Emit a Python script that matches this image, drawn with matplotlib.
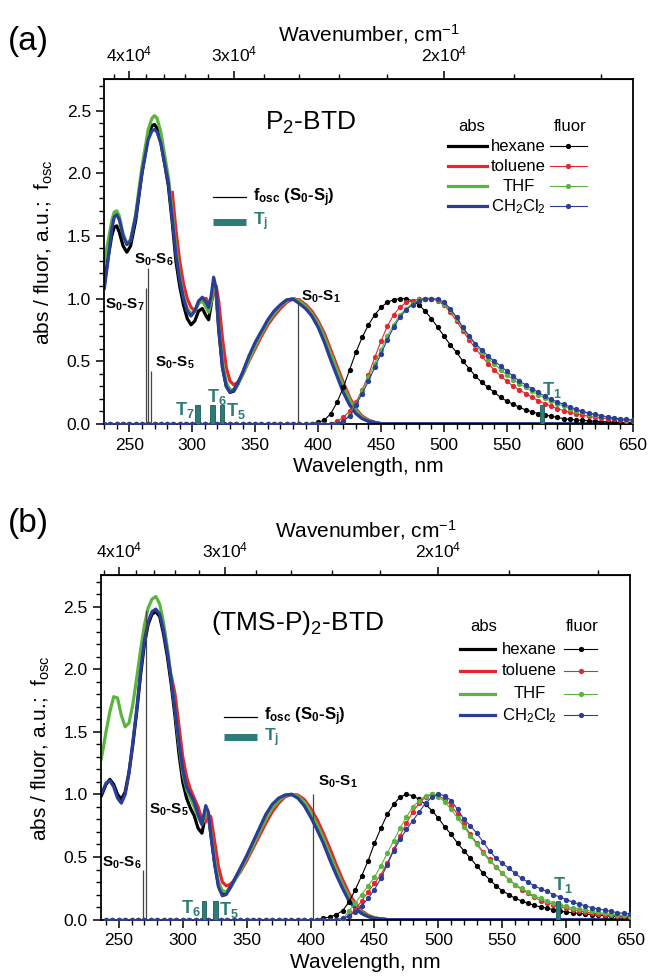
import numpy as np
import matplotlib.pyplot as plt
from matplotlib.ticker import FixedLocator, MultipleLocator

plt.rcParams['font.family'] = ['Liberation Sans', 'DejaVu Sans']
plt.rcParams['mathtext.fontset'] = 'custom'
plt.rcParams['mathtext.rm'] = 'Liberation Sans'
plt.rcParams['mathtext.it'] = 'Liberation Sans:italic'
plt.rcParams['mathtext.bf'] = 'Liberation Sans:bold'

solvents = ['hexane', 'toluene', 'THF', 'CH$_2$Cl$_2$']
colors = ['black', '#e8252b', '#5ab53e', '#2b3d97']
teal = '#2c7c77'

# ---------------- panel (a): P2-BTD ----------------
wl_abs_a = [230, 233, 236, 238, 240, 242, 245, 248, 251, 255, 260, 265, 268, 270, 272, 275,
            278, 281, 284, 287, 290, 293, 296, 299, 302, 305, 308, 311, 313, 315, 317, 319,
            321, 324, 327, 330, 333, 336, 340, 345, 350, 355, 360, 365, 370, 375, 380, 385,
            390, 395, 400, 405, 410, 415, 420, 425, 430, 435, 440, 445, 450, 650]
abs_hex_a = [1.10, 1.32, 1.50, 1.57, 1.58, 1.53, 1.42, 1.37, 1.42, 1.62, 2.00, 2.30, 2.38, 2.39, 2.36, 2.25,
             2.08, 1.90, 1.62, 1.30, 1.10, 0.95, 0.84, 0.79, 0.82, 0.90, 0.92, 0.86, 0.83, 0.95, 1.10, 1.03,
             0.75, 0.45, 0.30, 0.25, 0.26, 0.31, 0.40, 0.52, 0.62, 0.71, 0.80, 0.87, 0.93, 0.98, 1.00, 0.98,
             0.95, 0.89, 0.80, 0.68, 0.53, 0.40, 0.27, 0.17, 0.09, 0.045, 0.02, 0.01, 0.0, 0.0]
abs_tol_a = [None] * 18 + [
             1.86, 1.55, 1.30, 1.12, 1.00, 0.93, 0.90, 0.96, 1.00, 1.00, 0.96, 0.97, 1.04, 1.10,
             0.98, 0.68, 0.45, 0.34, 0.31, 0.33, 0.39, 0.50, 0.60, 0.70, 0.79, 0.86, 0.92, 0.97, 0.995, 0.99,
             0.95, 0.90, 0.82, 0.72, 0.59, 0.46, 0.33, 0.21, 0.12, 0.06, 0.03, 0.01, 0.0, 0.0]
abs_thf_a = [1.28, 1.45, 1.62, 1.69, 1.70, 1.66, 1.52, 1.44, 1.47, 1.67, 2.05, 2.35, 2.44, 2.46, 2.44, 2.33,
             2.15, 1.97, 1.70, 1.40, 1.18, 1.02, 0.92, 0.88, 0.90, 0.96, 0.98, 0.93, 0.89, 0.97, 1.10, 1.06,
             0.80, 0.50, 0.33, 0.27, 0.27, 0.31, 0.39, 0.51, 0.62, 0.72, 0.81, 0.88, 0.94, 0.98, 1.00, 0.98,
             0.94, 0.88, 0.80, 0.69, 0.56, 0.43, 0.30, 0.19, 0.11, 0.05, 0.025, 0.01, 0.0, 0.0]
abs_dcm_a = [1.07, 1.30, 1.55, 1.65, 1.67, 1.63, 1.50, 1.43, 1.46, 1.65, 2.00, 2.27, 2.34, 2.35, 2.33, 2.24,
             2.08, 1.92, 1.65, 1.35, 1.15, 1.00, 0.90, 0.86, 0.90, 0.98, 1.01, 0.97, 0.93, 1.02, 1.17, 1.08,
             0.78, 0.45, 0.30, 0.25, 0.27, 0.32, 0.41, 0.54, 0.65, 0.74, 0.83, 0.90, 0.95, 0.99, 0.995, 0.96,
             0.92, 0.86, 0.77, 0.65, 0.51, 0.38, 0.25, 0.15, 0.08, 0.04, 0.02, 0.01, 0.0, 0.0]

# fluorescence, 5 nm steps, each list ends at 650 nm
fl_hex_a = [0.0] * 34 + [
    0.01, 0.03, 0.08, 0.17, 0.29, 0.43, 0.57, 0.69, 0.79, 0.87, 0.93, 0.97, 0.99, 1.0, 1.0, 0.98,
    0.95, 0.90, 0.84, 0.77, 0.70, 0.63, 0.57, 0.50, 0.44, 0.38, 0.33, 0.29, 0.25, 0.21, 0.18, 0.155,
    0.13, 0.11, 0.095, 0.08, 0.07, 0.06, 0.05, 0.04, 0.035, 0.03, 0.027, 0.023, 0.02, 0.017, 0.015,
    0.012, 0.01, 0.008, 0.006]
fl_tol_a = [0.0] * 36 + [
    0.0, 0.02, 0.05, 0.10, 0.17, 0.27, 0.39, 0.53, 0.66, 0.78, 0.87, 0.93, 0.97, 0.98, 0.995, 1.0,
    1.0, 0.98, 0.95, 0.89, 0.82, 0.74, 0.67, 0.60, 0.54, 0.48, 0.43, 0.38, 0.34, 0.30, 0.27, 0.24,
    0.21, 0.185, 0.16, 0.14, 0.12, 0.105, 0.09, 0.08, 0.07, 0.06, 0.05, 0.045, 0.04, 0.035, 0.03,
    0.025, 0.02]
fl_thf_a = [0.0] * 38 + [
    0.02, 0.07, 0.16, 0.26, 0.37, 0.48, 0.59, 0.70, 0.79, 0.87, 0.92, 0.96, 0.985, 1.0, 1.0, 0.99,
    0.96, 0.91, 0.84, 0.76, 0.69, 0.63, 0.57, 0.52, 0.48, 0.43, 0.39, 0.35, 0.32, 0.29, 0.26, 0.23,
    0.205, 0.18, 0.16, 0.14, 0.12, 0.105, 0.09, 0.08, 0.07, 0.06, 0.05, 0.043, 0.037, 0.032, 0.028]
fl_dcm_a = [0.0] * 37 + [
    0.0, 0.02, 0.06, 0.15, 0.24, 0.34, 0.45, 0.56, 0.67, 0.77, 0.85, 0.91, 0.95, 0.98, 0.995, 1.0,
    0.995, 0.97, 0.92, 0.85, 0.77, 0.70, 0.64, 0.59, 0.54, 0.50, 0.46, 0.42, 0.38, 0.34, 0.31, 0.28,
    0.25, 0.22, 0.195, 0.175, 0.155, 0.135, 0.115, 0.10, 0.085, 0.075, 0.065, 0.055, 0.045, 0.04,
    0.035, 0.03]

# calculated transitions
s_pos_a = [384, 267, 265.2, 263.3]
s_fosc_a = [0.98, 0.42, 1.24, 1.08]
t_pos_a = [304, 316, 323.7, 578]
t_h_a = [0.15, 0.15, 0.15, 0.15]

# ---------------- panel (b): (TMS-P)2-BTD ----------------
wl_abs_b = [236, 238, 240, 243, 246, 249, 252, 255, 258, 261, 264, 267, 270, 273, 276, 279,
            282, 285, 288, 291, 294, 297, 300, 303, 306, 309, 312, 315, 318, 320, 322, 325,
            328, 331, 334, 337, 340, 345, 350, 355, 360, 365, 370, 375, 380, 385, 390, 395,
            400, 405, 410, 415, 420, 425, 430, 435, 440, 445, 450, 455, 460, 650]
abs_hex_b = [0.98, 1.03, 1.08, 1.12, 1.08, 1.00, 0.96, 1.02, 1.18, 1.40, 1.66, 1.95, 2.20, 2.36, 2.44, 2.46,
             2.42, 2.28, 2.10, 1.88, 1.62, 1.33, 1.10, 0.97, 0.89, 0.83, 0.73, 0.69, 0.84, 0.84, 0.68, 0.45,
             0.27, 0.20, 0.21, 0.26, 0.31, 0.40, 0.50, 0.61, 0.72, 0.83, 0.91, 0.96, 0.99, 1.00, 0.98, 0.92,
             0.84, 0.74, 0.62, 0.49, 0.37, 0.26, 0.16, 0.09, 0.05, 0.025, 0.01, 0.005, 0.0, 0.0]
abs_tol_b = [None] * 19 + [
             1.95, 1.80, 1.55, 1.30, 1.14, 1.04, 0.97, 0.90, 0.80, 0.78, 0.84, 0.82, 0.62,
             0.42, 0.30, 0.27, 0.28, 0.31, 0.38, 0.47, 0.57, 0.67, 0.77, 0.86, 0.93, 0.98, 1.00, 0.995, 0.96,
             0.89, 0.80, 0.69, 0.57, 0.44, 0.32, 0.21, 0.13, 0.07, 0.035, 0.015, 0.005, 0.0, 0.0]
abs_thf_b = [1.27, 1.38, 1.50, 1.66, 1.78, 1.77, 1.63, 1.54, 1.57, 1.72, 1.93, 2.15, 2.35, 2.49, 2.56, 2.58,
             2.52, 2.37, 2.17, 1.94, 1.68, 1.40, 1.17, 1.04, 0.97, 0.90, 0.82, 0.76, 0.84, 0.84, 0.70, 0.48,
             0.30, 0.23, 0.22, 0.25, 0.30, 0.39, 0.49, 0.59, 0.70, 0.80, 0.89, 0.95, 0.99, 1.00, 0.985, 0.94,
             0.86, 0.76, 0.65, 0.52, 0.40, 0.28, 0.18, 0.11, 0.06, 0.03, 0.015, 0.005, 0.0, 0.0]
abs_dcm_b = [1.00, 1.04, 1.09, 1.11, 1.06, 0.97, 0.93, 1.00, 1.17, 1.42, 1.68, 1.98, 2.23, 2.38, 2.46, 2.48,
             2.44, 2.31, 2.13, 1.92, 1.68, 1.42, 1.20, 1.06, 1.00, 0.94, 0.84, 0.76, 0.91, 0.86, 0.68, 0.44,
             0.26, 0.19, 0.20, 0.25, 0.31, 0.41, 0.51, 0.62, 0.73, 0.84, 0.92, 0.97, 0.995, 1.00, 0.97, 0.91,
             0.82, 0.72, 0.61, 0.48, 0.36, 0.25, 0.15, 0.09, 0.05, 0.025, 0.01, 0.005, 0.0, 0.0]

fl_hex_b = [0.0] * 32 + [
    0.0, 0.0, 0.01, 0.02, 0.04, 0.07, 0.14, 0.24, 0.35, 0.47, 0.61, 0.73, 0.84, 0.92, 0.98, 1.0,
    0.99, 0.96, 0.92, 0.87, 0.81, 0.74, 0.68, 0.61, 0.55, 0.49, 0.43, 0.37, 0.32, 0.27, 0.23, 0.20,
    0.17, 0.15, 0.13, 0.115, 0.10, 0.09, 0.08, 0.07, 0.06, 0.055, 0.05, 0.045, 0.04, 0.035, 0.03,
    0.027, 0.024, 0.02, 0.018]
fl_tol_b = [0.0] * 36 + [
    0.0, 0.03, 0.08, 0.15, 0.22, 0.29, 0.36, 0.45, 0.56, 0.67, 0.77, 0.86, 0.93, 0.98, 1.0, 0.99,
    0.96, 0.91, 0.84, 0.76, 0.68, 0.61, 0.54, 0.48, 0.42, 0.37, 0.32, 0.28, 0.24, 0.21, 0.18, 0.15,
    0.135, 0.12, 0.105, 0.09, 0.08, 0.07, 0.06, 0.052, 0.045, 0.04, 0.034, 0.03, 0.026, 0.022]
fl_thf_b = [0.0] * 38 + [
    0.07, 0.13, 0.20, 0.27, 0.34, 0.43, 0.53, 0.63, 0.73, 0.82, 0.90, 0.95, 0.99, 1.0, 0.98, 0.94,
    0.88, 0.81, 0.74, 0.67, 0.60, 0.53, 0.47, 0.42, 0.37, 0.32, 0.28, 0.25, 0.22, 0.19, 0.17, 0.15,
    0.135, 0.12, 0.105, 0.095, 0.085, 0.075, 0.065, 0.057, 0.05, 0.044, 0.038, 0.033, 0.03]
fl_dcm_b = [0.0] * 37 + [
    0.01, 0.03, 0.06, 0.11, 0.17, 0.24, 0.33, 0.44, 0.55, 0.64, 0.72, 0.79, 0.86, 0.93, 0.98, 1.0,
    0.99, 0.95, 0.88, 0.80, 0.75, 0.69, 0.62, 0.55, 0.49, 0.45, 0.41, 0.37, 0.33, 0.30, 0.27, 0.245,
    0.225, 0.20, 0.18, 0.16, 0.14, 0.125, 0.11, 0.095, 0.085, 0.075, 0.065, 0.055, 0.05, 0.045]

s_pos_b = [402, 271, 269]
s_fosc_b = [1.0, 2.47, 0.40]
t_pos_b = [316.5, 325.5, 593.5]
t_h_b = [0.15, 0.15, 0.15]


def wn(x):
    x = np.asarray(x, dtype=float)
    return 1e7 / np.where(x == 0, 1e-9, x)


def draw_panel(ax, xmin, wl_abs, abs_list, fl_list, s_pos, s_fosc, t_pos, t_h):
    for y, c in zip(abs_list, colors):
        y = np.array([np.nan if v is None else v for v in y])
        ax.plot(wl_abs, y, color=c, lw=2.3, zorder=2, solid_capstyle='butt')
    for y, c in zip(fl_list, colors):
        x = 650 - 5 * np.arange(len(y))[::-1]
        ax.plot(x, y, '-o', color=c, lw=0.8, ms=3.8, mew=0, zorder=3)
    ax.vlines(s_pos, 0, s_fosc, color='#444444', lw=0.9, zorder=4)
    ax.bar(t_pos, t_h, width=3.6, color=teal, edgecolor='#1e5956', lw=0.6, zorder=5)

    ax.set_xlim(xmin, 650)
    ax.set_ylim(-0.005, 2.75)
    ax.xaxis.set_major_locator(FixedLocator(np.arange(250, 651, 50)))
    ax.xaxis.set_minor_locator(MultipleLocator(10))
    ax.yaxis.set_major_locator(MultipleLocator(0.5))
    ax.yaxis.set_minor_locator(MultipleLocator(0.1))
    ax.yaxis.set_major_formatter(plt.FuncFormatter(lambda v, p: f'{v:.1f}'))
    ax.tick_params(which='both', direction='out', top=False, right=False, labelsize=12.5)
    ax.tick_params(which='major', length=6, width=1.1)
    ax.tick_params(which='minor', length=3.5, width=1.0)
    for s in ax.spines.values():
        s.set_linewidth(1.3)
    ax.set_xlabel('Wavelength, nm', fontsize=15, labelpad=3)
    ax.set_ylabel(r'abs / fluor, a.u.;  f$_{\mathrm{osc}}$', fontsize=15, labelpad=8)

    sec = ax.secondary_xaxis('top', functions=(wn, wn))
    sec.set_xticks([40000, 30000, 20000])
    sec.set_xticklabels(['4x10$^4$', '3x10$^4$', '2x10$^4$'])
    sec.xaxis.set_minor_locator(FixedLocator([42000, 38000, 36000, 34000, 32000, 28000, 26000,
                                              24000, 22000, 18000, 16000]))
    sec.tick_params(which='both', direction='out', labelsize=12.5, pad=5)
    sec.tick_params(which='major', length=6, width=1.1)
    sec.tick_params(which='minor', length=3.5, width=1.0)
    sec.set_xlabel('Wavenumber, cm$^{-1}$', fontsize=15, labelpad=2)


def draw_legend(ax, abs_x, name_x, fl_x, head_y, rows_y, osc_x, osc_y):
    tr = ax.transAxes
    ax.text(abs_x[0] + 0.045, head_y, 'abs', transform=tr, fontsize=12, ha='center', va='center')
    ax.text((fl_x[0] + fl_x[1]) / 2 + 0.003, head_y, 'fluor', transform=tr, fontsize=12,
            ha='center', va='center')
    for yy, c, name in zip(rows_y, colors, solvents):
        ax.plot(abs_x, [yy, yy], color=c, lw=2.3, transform=tr, clip_on=False)
        ax.text(name_x, yy, name, transform=tr, fontsize=12, ha='center', va='center')
        ax.plot(fl_x, [yy, yy], color=c, lw=0.8, transform=tr, clip_on=False)
        ax.plot([(fl_x[0] + fl_x[1]) / 2], [yy], 'o', color=c, ms=3.8, mew=0, transform=tr)
    ax.plot([osc_x, osc_x + 0.062], [osc_y[0], osc_y[0]], color='black', lw=0.9, transform=tr)
    ax.text(osc_x + 0.076, osc_y[0], r'$\mathbf{f_{osc}}$ ($\mathbf{S_0}$-$\mathbf{S_j}$)',
            transform=tr, fontsize=12, fontweight='bold', ha='left', va='center')
    ax.plot([osc_x, osc_x + 0.062], [osc_y[1], osc_y[1]], color=teal, lw=5, transform=tr,
            solid_capstyle='butt')
    ax.text(osc_x + 0.076, osc_y[1], r'$\mathbf{T_j}$', transform=tr, fontsize=12.5,
            color=teal, ha='left', va='center')


fig = plt.figure(figsize=(6.51, 9.8), dpi=100)
ax1 = fig.add_axes([0.160, 0.567, 0.812, 0.352])
ax2 = fig.add_axes([0.155, 0.061, 0.813, 0.352])

draw_panel(ax1, 230, wl_abs_a, [abs_hex_a, abs_tol_a, abs_thf_a, abs_dcm_a],
           [fl_hex_a, fl_tol_a, fl_thf_a, fl_dcm_a], s_pos_a, s_fosc_a, t_pos_a, t_h_a)
draw_panel(ax2, 236, wl_abs_b, [abs_hex_b, abs_tol_b, abs_thf_b, abs_dcm_b],
           [fl_hex_b, fl_tol_b, fl_thf_b, fl_dcm_b], s_pos_b, s_fosc_b, t_pos_b, t_h_b)

draw_legend(ax1, [0.650, 0.724], 0.784, [0.843, 0.913], 0.864,
            [0.806, 0.748, 0.690, 0.632], 0.206, [0.658, 0.588])
draw_legend(ax2, [0.679, 0.745], 0.810, [0.875, 0.938], 0.852,
            [0.786, 0.723, 0.657, 0.594], 0.233, [0.590, 0.530])

ax1.text(0.391, 0.875, 'P$_2$-BTD', transform=ax1.transAxes, fontsize=19, ha='center', va='center')
ax2.text(0.371, 0.861, '(TMS-P)$_2$-BTD', transform=ax2.transAxes, fontsize=19,
         ha='center', va='center')

# transition labels
bold = dict(fontsize=11, fontweight='bold', va='center')
ax1.text(262, 0.95, r'$\mathbf{S_0}$-$\mathbf{S_7}$', ha='right', **bold)
ax1.text(254, 1.31, r'$\mathbf{S_0}$-$\mathbf{S_6}$', ha='left', **bold)
ax1.text(270, 0.49, r'$\mathbf{S_0}$-$\mathbf{S_5}$', ha='left', **bold)
ax1.text(386, 1.01, r'$\mathbf{S_0}$-$\mathbf{S_1}$', ha='left', **bold)
tlab = dict(fontsize=13, color=teal, va='center')
ax1.text(302, 0.11, r'$\mathbf{T_7}$', ha='right', **tlab)
ax1.text(311.5, 0.215, r'$\mathbf{T_6}$', ha='left', **tlab)
ax1.text(326.5, 0.10, r'$\mathbf{T_5}$', ha='left', **tlab)
ax1.text(577.5, 0.27, r'$\mathbf{T_1}$', ha='left', **tlab)

ax2.text(268, 0.45, r'$\mathbf{S_0}$-$\mathbf{S_6}$', ha='right', **bold)
ax2.text(273.5, 0.88, r'$\mathbf{S_0}$-$\mathbf{S_5}$', ha='left', **bold)
ax2.text(405.5, 1.10, r'$\mathbf{S_0}$-$\mathbf{S_1}$', ha='left', **bold)
ax2.text(314.2, 0.09, r'$\mathbf{T_6}$', ha='right', **tlab)
ax2.text(328.2, 0.08, r'$\mathbf{T_5}$', ha='left', **tlab)
ax2.text(589.5, 0.28, r'$\mathbf{T_1}$', ha='left', **tlab)

fig.text(0.012, 0.958, '(a)', fontsize=24, ha='left', va='center')
fig.text(0.012, 0.466, '(b)', fontsize=24, ha='left', va='center')

fig.savefig('out.png', dpi=100, facecolor='white')
